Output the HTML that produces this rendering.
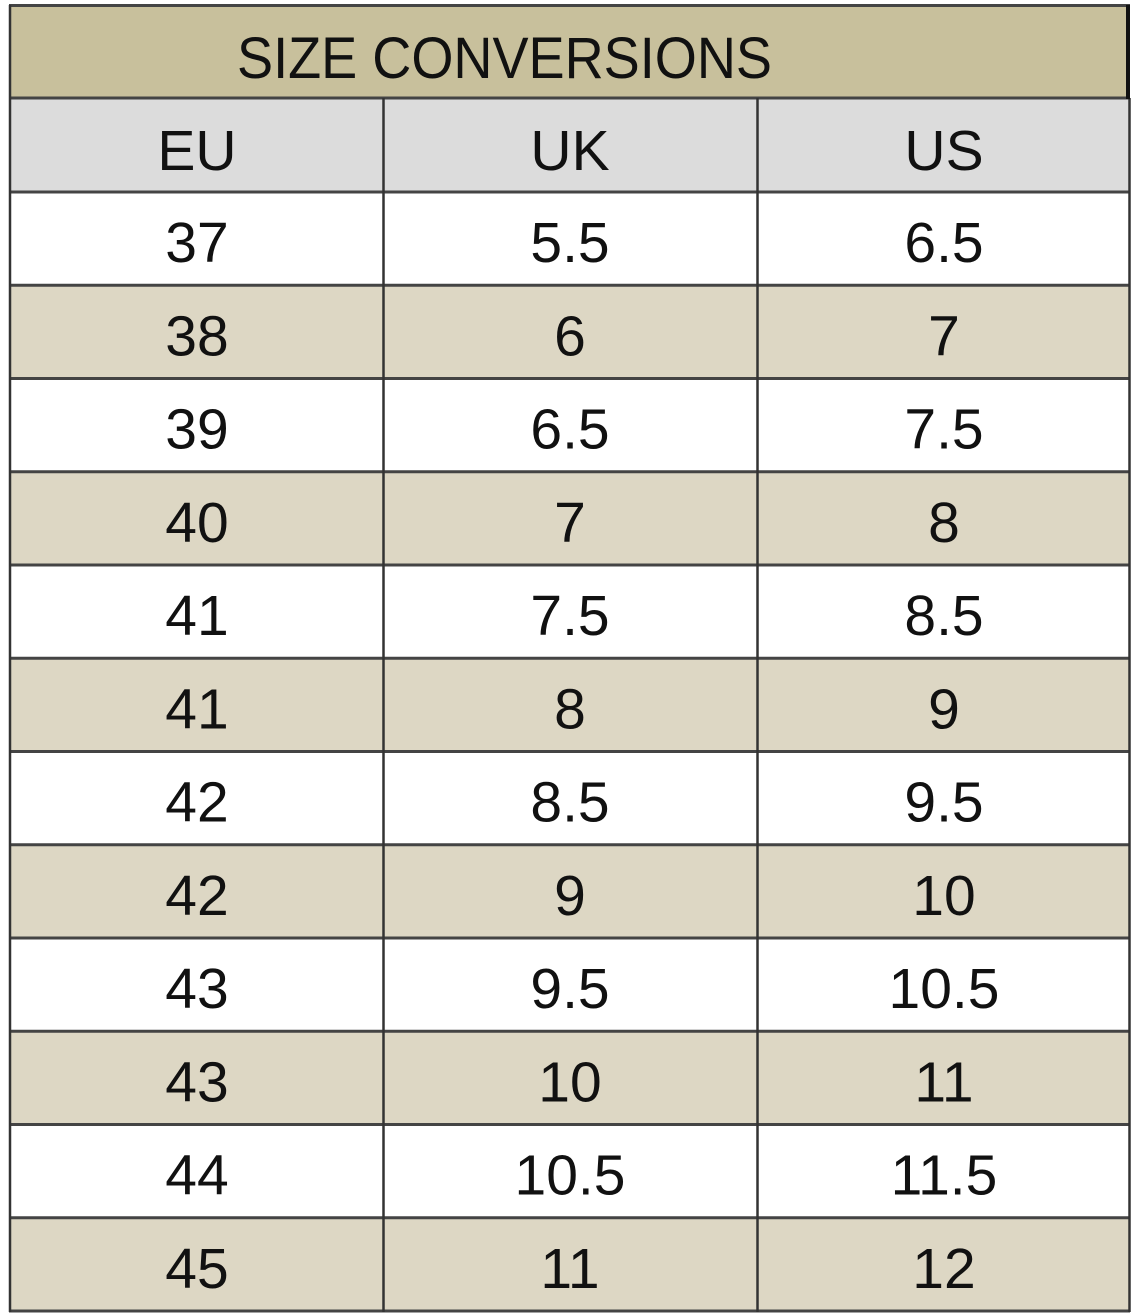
<!DOCTYPE html>
<html><head><meta charset="utf-8"><style>html,body{margin:0;padding:0;background:#fff;}svg{display:block}</style></head>
<body>
<svg width="1133" height="1316" viewBox="0 0 1133 1316" xmlns="http://www.w3.org/2000/svg" font-family="Liberation Sans, sans-serif" fill="#111">
<rect x="0" y="0" width="1133" height="1316" fill="#fff"/>
<rect x="10" y="6" width="1119" height="92" fill="#c8c09c"/>
<rect x="10" y="98" width="1119" height="94" fill="#dcdcdc"/>
<g fill="#ddd7c4">
<rect x="10" y="285.25" width="1119" height="93.25"/>
<rect x="10" y="471.75" width="1119" height="93.25"/>
<rect x="10" y="658.25" width="1119" height="93.25"/>
<rect x="10" y="844.75" width="1119" height="93.25"/>
<rect x="10" y="1031.25" width="1119" height="93.25"/>
<rect x="10" y="1217.75" width="1119" height="93.25"/>
</g>
<g stroke="#444" stroke-width="3">
<line x1="9" y1="5.5" x2="1130" y2="5.5"/>
<line x1="9" y1="98" x2="1130" y2="98"/>
<line x1="9" y1="192" x2="1130" y2="192"/>
<line x1="9" y1="285.25" x2="1130" y2="285.25"/>
<line x1="9" y1="378.5" x2="1130" y2="378.5"/>
<line x1="9" y1="471.75" x2="1130" y2="471.75"/>
<line x1="9" y1="565" x2="1130" y2="565"/>
<line x1="9" y1="658.25" x2="1130" y2="658.25"/>
<line x1="9" y1="751.5" x2="1130" y2="751.5"/>
<line x1="9" y1="844.75" x2="1130" y2="844.75"/>
<line x1="9" y1="938" x2="1130" y2="938"/>
<line x1="9" y1="1031.25" x2="1130" y2="1031.25"/>
<line x1="9" y1="1124.5" x2="1130" y2="1124.5"/>
<line x1="9" y1="1217.75" x2="1130" y2="1217.75"/>
<line x1="9" y1="1311" x2="1130" y2="1311"/>
</g>
<g stroke="#333" stroke-width="2.5">
<line x1="10" y1="5" x2="10" y2="1312"/>
<line x1="1129.5" y1="98" x2="1129.5" y2="1312"/>
<line x1="383.5" y1="98" x2="383.5" y2="1312"/>
<line x1="757.5" y1="98" x2="757.5" y2="1312"/>
</g>
<line x1="1128" y1="5" x2="1128" y2="99" stroke="#111" stroke-width="4"/>
<text x="237" y="78" font-size="58" textLength="535" lengthAdjust="spacingAndGlyphs">SIZE CONVERSIONS</text>
<g font-size="57" text-anchor="middle">
<text x="197" y="170">EU</text><text x="570" y="170">UK</text><text x="944" y="170">US</text>
<text x="197" y="262">37</text><text x="570" y="262">5.5</text><text x="944" y="262">6.5</text>
<text x="197" y="355.25">38</text><text x="570" y="355.25">6</text><text x="944" y="355.25">7</text>
<text x="197" y="448.5">39</text><text x="570" y="448.5">6.5</text><text x="944" y="448.5">7.5</text>
<text x="197" y="541.75">40</text><text x="570" y="541.75">7</text><text x="944" y="541.75">8</text>
<text x="197" y="635">41</text><text x="570" y="635">7.5</text><text x="944" y="635">8.5</text>
<text x="197" y="728.25">41</text><text x="570" y="728.25">8</text><text x="944" y="728.25">9</text>
<text x="197" y="821.5">42</text><text x="570" y="821.5">8.5</text><text x="944" y="821.5">9.5</text>
<text x="197" y="914.75">42</text><text x="570" y="914.75">9</text><text x="944" y="914.75">10</text>
<text x="197" y="1008">43</text><text x="570" y="1008">9.5</text><text x="944" y="1008">10.5</text>
<text x="197" y="1101.25">43</text><text x="570" y="1101.25">10</text><text x="944" y="1101.25">11</text>
<text x="197" y="1194.5">44</text><text x="570" y="1194.5">10.5</text><text x="944" y="1194.5">11.5</text>
<text x="197" y="1287.75">45</text><text x="570" y="1287.75">11</text><text x="944" y="1287.75">12</text>
</g>
</svg>
</body></html>
